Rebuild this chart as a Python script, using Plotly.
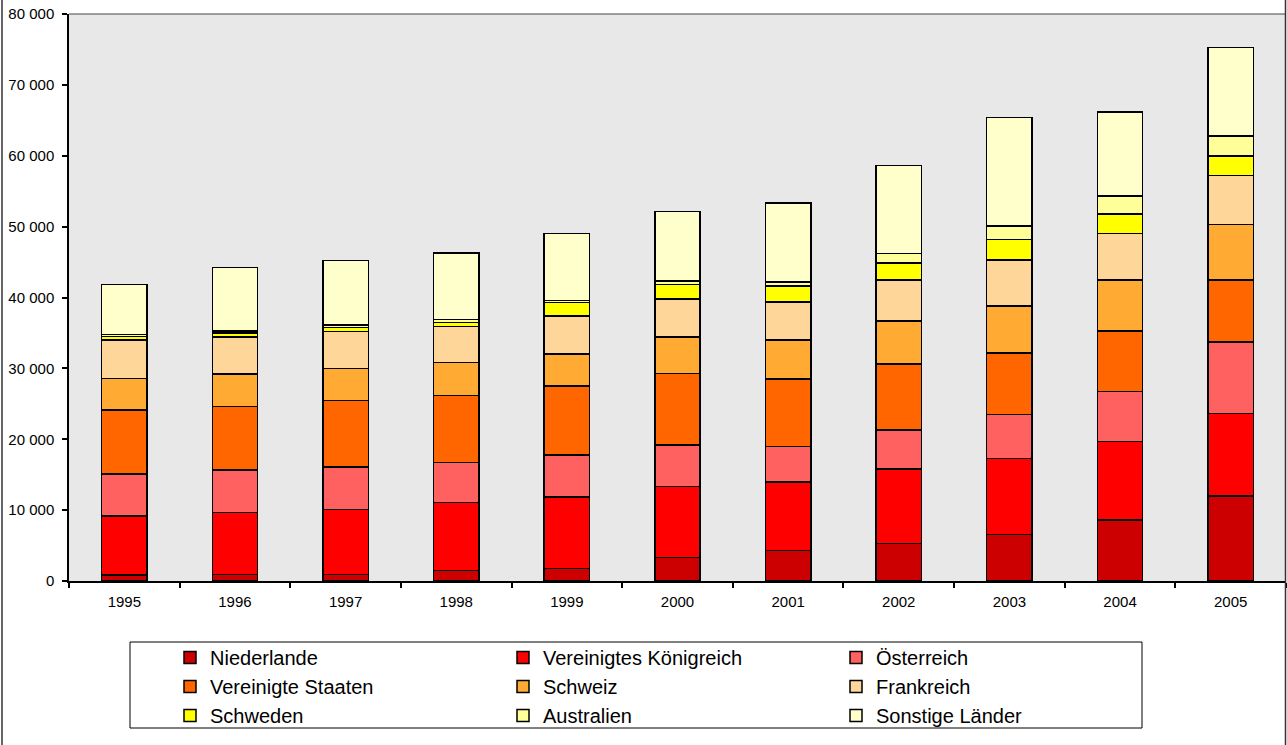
import plotly.graph_objects as go

years = ["1995", "1996", "1997", "1998", "1999", "2000", "2001", "2002", "2003", "2004", "2005"]

niederlande = [850, 900, 900, 1460, 1740, 3290, 4280, 5300, 6540, 8600, 12000]
vereinigtes_koenigreich = [8300, 8740, 9200, 9590, 10110, 10010, 9720, 10500, 10760, 11100, 11600]
oesterreich = [5950, 6020, 6000, 5700, 5950, 5900, 4950, 5500, 6200, 7050, 10100]
vereinigte_staaten = [9000, 8940, 9400, 9450, 9700, 10100, 9550, 9300, 8700, 8550, 8800]
schweiz = [4500, 4600, 4500, 4600, 4500, 5100, 5500, 6100, 6600, 7200, 7800]
frankreich = [5400, 5200, 5200, 5100, 5400, 5400, 5400, 5800, 6500, 6500, 6900]
schweden = [500, 600, 600, 600, 1900, 2000, 2200, 2400, 2900, 2800, 2800]
australien = [250, 300, 300, 400, 300, 500, 600, 1300, 1900, 2500, 2800]
sonstige = [7100, 8900, 9100, 9400, 9400, 9800, 11100, 12400, 15300, 11900, 12500]

series = [
    ("Niederlande", niederlande, "#CC0000"),
    ("Vereinigtes Königreich", vereinigtes_koenigreich, "#FF0000"),
    ("Österreich", oesterreich, "#FF6161"),
    ("Vereinigte Staaten", vereinigte_staaten, "#FF6600"),
    ("Schweiz", schweiz, "#FFAA33"),
    ("Frankreich", frankreich, "#FFD699"),
    ("Schweden", schweden, "#FFFF00"),
    ("Australien", australien, "#FFFF99"),
    ("Sonstige Länder", sonstige, "#FFFFCC"),
]

W, H = 1287, 745
L, R, T, B = 69, 1, 14, 164
pw, ph = W - L - R, H - T - B

def px_x(p):
    return (p - L) / pw

def px_y(p):
    return (H - B - p) / ph

fig = go.Figure()
for name, vals, col in series:
    fig.add_trace(go.Bar(
        x=years, y=vals, name=name,
        marker=dict(color=col, line=dict(color="#000000", width=1.5)),
    ))

font = "Liberation Sans, Arial, sans-serif"

fig.update_layout(
    width=W, height=H,
    margin=dict(l=L, r=R, t=T, b=B, pad=0, autoexpand=False),
    barmode="stack",
    bargap=0.59,
    plot_bgcolor="#E8E8E8",
    paper_bgcolor="#FFFFFF",
    separators=", ",
    font=dict(family=font, color="#000000", size=15),
    showlegend=True,
    legend=dict(
        orientation="h",
        x=px_x(170), xanchor="left",
        y=px_y(638), yanchor="top",
        bgcolor="rgba(0,0,0,0)",
        borderwidth=0,
        font=dict(family=font, size=20, color="#000000"),
        entrywidth=288, entrywidthmode="pixels",
        traceorder="normal",
        tracegroupgap=0,
    ),
    xaxis=dict(
        type="category",
        showgrid=False,
        showline=True, linecolor="#000000", linewidth=1.5,
        ticks="outside", tickson="boundaries", ticklen=5, tickcolor="#000000", tickwidth=1.5,
        tickfont=dict(family=font, size=15, color="#000000"),
        ticklabelstandoff=6,
        zeroline=False,
    ),
    yaxis=dict(
        range=[0, 80000], dtick=10000,
        tickformat=",d",
        showgrid=False,
        showline=True, linecolor="#000000", linewidth=1.5,
        ticks="outside", ticklen=5, tickcolor="#000000", tickwidth=1.5,
        tickfont=dict(family=font, size=15, color="#000000"),
        ticklabelstandoff=5,
        zeroline=False,
    ),
    shapes=[
        dict(type="line", xref="paper", yref="paper", x0=0, x1=1, y0=1, y1=1,
             line=dict(color="#444444", width=1)),
        dict(type="line", xref="paper", yref="paper", x0=px_x(2), x1=px_x(2), y0=px_y(-5), y1=px_y(750),
             line=dict(color="#333333", width=1.5)),
        dict(type="line", xref="paper", yref="paper", x0=px_x(1285.5), x1=px_x(1285.5), y0=px_y(-5), y1=px_y(750),
             line=dict(color="#333333", width=1.5)),
        dict(type="rect", xref="paper", yref="paper", x0=px_x(130), x1=px_x(1142), y0=px_y(642), y1=px_y(728),
             line=dict(color="#000000", width=1), fillcolor="rgba(0,0,0,0)", layer="below"),
    ],
)

fig.write_html("out.html")
